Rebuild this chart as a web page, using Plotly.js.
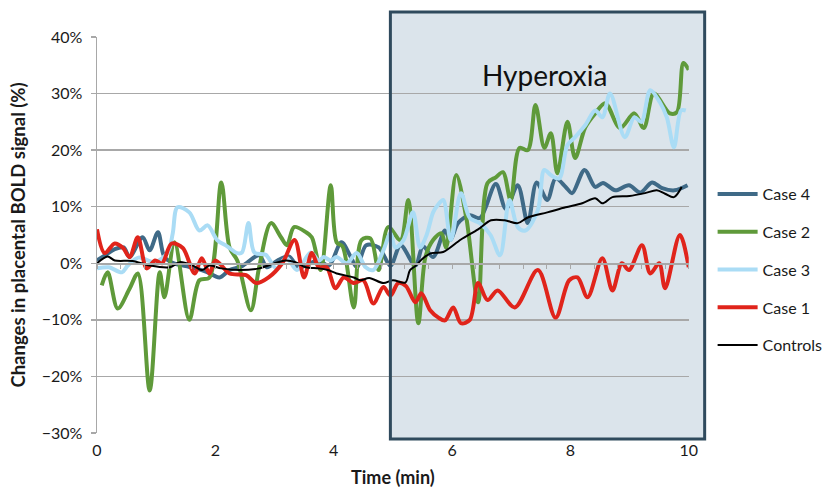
<!DOCTYPE html>
<html>
<head>
<meta charset="utf-8">
<script src="https://cdn.plot.ly/plotly-3.0.1.min.js"></script>
<style>html,body{margin:0;padding:0;background:#fff;}#chart{width:828px;height:488px;}</style>
</head>
<body>
<div id="chart"></div>
<script>
// ---- Data (time in minutes, change in %) ----
const case4T = [0, 0.15, 0.3, 0.45, 0.55, 0.77, 0.89, 1.03, 1.14, 1.3, 1.5, 1.7, 1.85, 2.07, 2.24, 2.45, 2.74, 2.87, 3.05, 3.24, 3.41, 3.6, 3.75, 3.92, 4.13, 4.29, 4.39, 4.55, 4.76, 4.96, 5.13, 5.38, 5.51, 5.68, 5.88, 5.97, 6.1, 6.3, 6.47, 6.74, 6.91, 7.11, 7.28, 7.43, 7.61, 7.75, 7.92, 8.03, 8.24, 8.42, 8.55, 8.76, 8.99, 9.18, 9.38, 9.55, 9.76, 9.98];
const case4V = [0.5, 1.5, 2.5, 2.8, 1.1, 4.6, 2.3, 5.5, 1.1, 0.0, -0.5, -1.0, -1.5, -2.5, -1.2, -0.5, 1.4, -0.7, 0.5, 1.2, -0.7, 0.0, 0.5, -0.4, 3.7, 1.1, -0.7, 3.2, 2.8, -0.4, 3.2, -0.4, 3.0, 1.1, 5.8, 4.1, 7.1, 8.5, 8.0, 14.0, 9.6, 13.8, 7.1, 14.3, 11.2, 15.0, 13.5, 12.4, 16.5, 13.5, 14.2, 12.9, 13.8, 12.5, 14.3, 13.3, 12.9, 13.8];

const case2T = [0.08, 0.18, 0.35, 0.55, 0.69, 0.89, 1.06, 1.14, 1.31, 1.56, 1.73, 1.9, 2.1, 2.24, 2.37, 2.6, 2.74, 2.94, 3.11, 3.21, 3.33, 3.53, 3.63, 3.78, 3.95, 4.05, 4.15, 4.34, 4.47, 4.62, 4.76, 4.92, 5.13, 5.26, 5.43, 5.55, 5.68, 5.82, 5.9, 6.07, 6.24, 6.44, 6.6, 6.74, 6.86, 6.99, 7.14, 7.28, 7.41, 7.56, 7.67, 7.78, 7.95, 8.08, 8.25, 8.42, 8.59, 8.84, 9.08, 9.24, 9.41, 9.68, 9.8, 9.91, 10.0];
const case2V = [-3.9, -1.6, -8.0, -4.5, -1.8, -22.5, -1.6, -6.0, 3.7, -10.0, -3.0, -2.5, 14.3, 2.8, 0.5, -8.3, -0.7, 7.1, 4.6, 3.2, 6.4, 5.5, 4.6, -1.2, 13.8, 3.7, 3.0, -7.8, 4.1, 4.4, -1.2, 6.4, 4.1, 11.2, -10.6, 1.1, 4.1, 5.3, 2.8, 15.6, 8.1, -6.9, 14.2, 15.2, 16.1, 11.2, 20.4, 20.0, 28.0, 20.4, 23.0, 15.9, 25.0, 18.6, 24.0, 26.5, 28.3, 23.9, 26.5, 23.9, 30.0, 26.5, 26.7, 35.4, 34.2];

const case3T = [0, 0.2, 0.42, 0.52, 0.7, 0.98, 1.2, 1.28, 1.36, 1.56, 1.73, 1.87, 2.03, 2.2, 2.37, 2.45, 2.56, 2.66, 2.85, 3.03, 3.2, 3.38, 3.61, 3.75, 3.83, 3.95, 4.05, 4.22, 4.39, 4.54, 4.67, 4.84, 4.96, 5.04, 5.18, 5.34, 5.46, 5.57, 5.68, 5.76, 5.85, 5.98, 6.15, 6.3, 6.47, 6.65, 6.81, 6.97, 7.11, 7.24, 7.45, 7.56, 7.68, 7.81, 7.95, 8.08, 8.25, 8.42, 8.54, 8.67, 8.92, 9.08, 9.2, 9.35, 9.51, 9.63, 9.75, 9.87, 9.95];
const case3V = [-0.9, -0.7, -1.6, -0.4, 1.0, 0.2, 2.0, 5.3, 9.9, 9.0, 5.8, 6.7, 4.1, 3.0, 1.8, 1.9, 7.1, 1.9, 1.5, -0.9, 1.0, -1.2, 1.9, 0.5, 1.1, 0.5, 1.1, 0.0, 1.8, -0.7, -1.2, 2.3, 5.3, 2.8, 4.1, 9.0, 2.8, 5.0, 9.0, 10.3, 11.2, 4.1, 12.4, 8.0, 7.1, 5.0, 1.4, 11.2, 6.4, 5.8, 9.4, 16.5, 15.5, 15.0, 20.9, 22.3, 24.4, 27.0, 25.8, 30.0, 22.3, 25.8, 25.0, 30.6, 28.5, 25.8, 20.5, 27.0, 27.0];

const case1T = [0, 0.13, 0.3, 0.44, 0.55, 0.69, 0.84, 0.98, 1.1, 1.26, 1.45, 1.65, 1.77, 1.9, 2.0, 2.24, 2.52, 2.69, 2.9, 3.13, 3.34, 3.5, 3.63, 3.75, 3.88, 4.03, 4.17, 4.34, 4.5, 4.67, 4.84, 4.96, 5.09, 5.22, 5.38, 5.48, 5.63, 5.77, 5.88, 6.02, 6.15, 6.3, 6.44, 6.6, 6.77, 7.06, 7.45, 7.75, 7.98, 8.12, 8.29, 8.54, 8.71, 8.87, 8.99, 9.21, 9.35, 9.5, 9.6, 9.85, 10.0];
const case1V = [6.0, 1.8, 3.5, 2.7, 1.1, 4.6, -0.9, 0.5, 0.0, 3.5, 2.7, -1.8, 0.9, -1.8, 0.5, -1.8, -2.1, -3.5, -2.5, 0.0, 4.1, -2.5, 1.8, -0.7, -0.7, -4.4, -2.5, -3.5, -3.0, -7.1, -4.2, -5.7, -3.5, -4.0, -6.9, -5.3, -8.3, -9.6, -10.1, -7.8, -10.6, -10.0, -3.5, -6.5, -4.8, -7.8, -1.2, -9.6, -3.0, -2.5, -6.0, 0.9, -4.8, 0.0, -1.2, 3.2, -1.8, 0.0, -4.4, 5.0, -0.7];

const controlsT = [0, 0.18, 0.3, 0.6, 0.89, 1.23, 1.4, 1.6, 1.78, 1.9, 2.1, 2.4, 2.74, 3.0, 3.19, 3.35, 3.53, 3.75, 3.9, 4.05, 4.34, 4.45, 4.6, 4.84, 5.0, 5.21, 5.29, 5.38, 5.51, 5.65, 5.85, 6.15, 6.44, 6.66, 6.89, 7.11, 7.28, 7.61, 7.92, 8.2, 8.42, 8.54, 8.71, 9.0, 9.26, 9.46, 9.6, 9.75, 9.88];
const controlsV = [0, 1.2, 0.5, 0.4, -0.4, -0.7, 0.2, -0.3, -1.2, -0.4, -0.9, -1.2, -0.9, 0.0, 0.5, 0.2, -0.7, -0.9, -1.2, -1.8, -2.5, -3.0, -2.6, -3.5, -3.0, -3.4, -1.2, -0.5, 0.9, 1.8, 2.0, 4.2, 6.0, 7.6, 7.6, 7.1, 8.1, 9.0, 9.9, 10.6, 11.5, 10.6, 11.7, 11.9, 12.4, 12.9, 12.3, 11.7, 13.5];

const seriesNames = ['Case 4', 'Case 2', 'Case 3', 'Case 1', 'Controls'];
const xTickVals = [0, 2, 4, 6, 8, 10];
const yTickVals = [-30, -20, -10, 0, 10, 20, 30, 40];
const yTickText = ['\u221230%', '\u221220%', '\u221210%', '0%', '10%', '20%', '30%', '40%'];
const hyperoxiaLabel = 'Hyperoxia';

// ---- Styles ----
const colors = ['#3f6a87', '#5f9a3a', '#aadcf5', '#e0241b', '#000000'];
const widths = [4, 4, 4, 4, 2];
const FONT = 'Lato, "Open Sans", sans-serif';
const GRID = '#a8a8a8';
const TXT = '#1a1a1a';

const xs = [case4T, case2T, case3T, case1T, controlsT];
const ys = [case4V, case2V, case3V, case1V, controlsV];

const traces = seriesNames.map((n, i) => ({
  type: 'scatter', mode: 'lines', name: n,
  x: xs[i], y: ys[i],
  line: {color: colors[i], width: widths[i], shape: 'spline', smoothing: 0.9},
  legendgroup: 'g' + i,
  hoverinfo: 'skip'
}));
// dummy trace for the axis drawn at 0 %
traces.push({type: 'scatter', x: [null], y: [null], xaxis: 'x2', showlegend: false, hoverinfo: 'skip'});

const W = 828, H = 488;
const L = 97, R = 692, T = 37, B = 433;
const paperW = W - L, ph = B - T;
const px = v => (v - L) / paperW;
const py = v => (B - v) / ph;
const xDomain = [0, px(R)];

const layout = {
  width: W, height: H,
  margin: {l: L, r: 0, t: T, b: H - B, pad: 0},
  paper_bgcolor: '#ffffff', plot_bgcolor: 'rgba(0,0,0,0)',
  font: {family: FONT, color: TXT, size: 16},
  showlegend: true,
  legend: {
    x: px(716), y: py(177), xanchor: 'left', yanchor: 'top',
    font: {family: FONT, size: 16, color: TXT},
    tracegroupgap: 14, itemwidth: 40, bgcolor: 'rgba(0,0,0,0)', borderwidth: 0
  },
  xaxis: {
    domain: xDomain,
    range: [0, 10], tickvals: xTickVals, ticktext: xTickVals.map(String),
    showgrid: false, zeroline: false, showline: false, ticks: '',
    tickfont: {family: FONT, size: 16, color: TXT},
    ticklabelstandoff: 6,
    title: {text: '<b>Time (min)</b>', font: {family: FONT, size: 18, color: TXT}, standoff: 14},
    fixedrange: true
  },
  xaxis2: {
    domain: xDomain,
    overlaying: 'x', anchor: 'free', position: 30 / 70, range: [0, 10],
    showgrid: false, zeroline: false, showline: true, linecolor: GRID, linewidth: 1.5,
    ticks: 'outside', tick0: 0, dtick: 0.4, ticklen: 4, tickcolor: GRID, tickwidth: 1,
    showticklabels: false, fixedrange: true
  },
  yaxis: {
    range: [-30, 40], tickvals: yTickVals, ticktext: yTickText,
    showgrid: true, gridcolor: GRID, gridwidth: 1.5,
    zeroline: false, showline: true, linecolor: GRID, linewidth: 1.5,
    ticks: 'outside', ticklen: 5, tickcolor: GRID, tickwidth: 1.5,
    tickfont: {family: FONT, size: 16, color: TXT},
    ticklabelstandoff: 5,
    title: {text: '<b>Changes in placental BOLD signal (%)</b>', font: {family: FONT, size: 18.5, color: TXT}, standoff: 11},
    fixedrange: true
  },
  shapes: [
    {type: 'rect', xref: 'paper', yref: 'paper', layer: 'below',
     x0: px(392), x1: px(708), y0: py(439), y1: py(12),
     fillcolor: '#dbe4eb', line: {width: 0}},
    {type: 'rect', xref: 'paper', yref: 'paper', layer: 'above',
     x0: px(392), x1: px(708), y0: py(439), y1: py(12),
     fillcolor: 'rgba(0,0,0,0)', line: {color: '#2f4a5d', width: 3}}
  ],
  annotations: [
    {text: hyperoxiaLabel, x: 7.56, y: 33.3, xref: 'x', yref: 'y', showarrow: false,
     font: {family: FONT, size: 28, color: '#111'}, xanchor: 'center', yanchor: 'middle'}
  ]
};

Plotly.newPlot('chart', traces, layout, {staticPlot: true, displayModeBar: false});
</script>
</body>
</html>
